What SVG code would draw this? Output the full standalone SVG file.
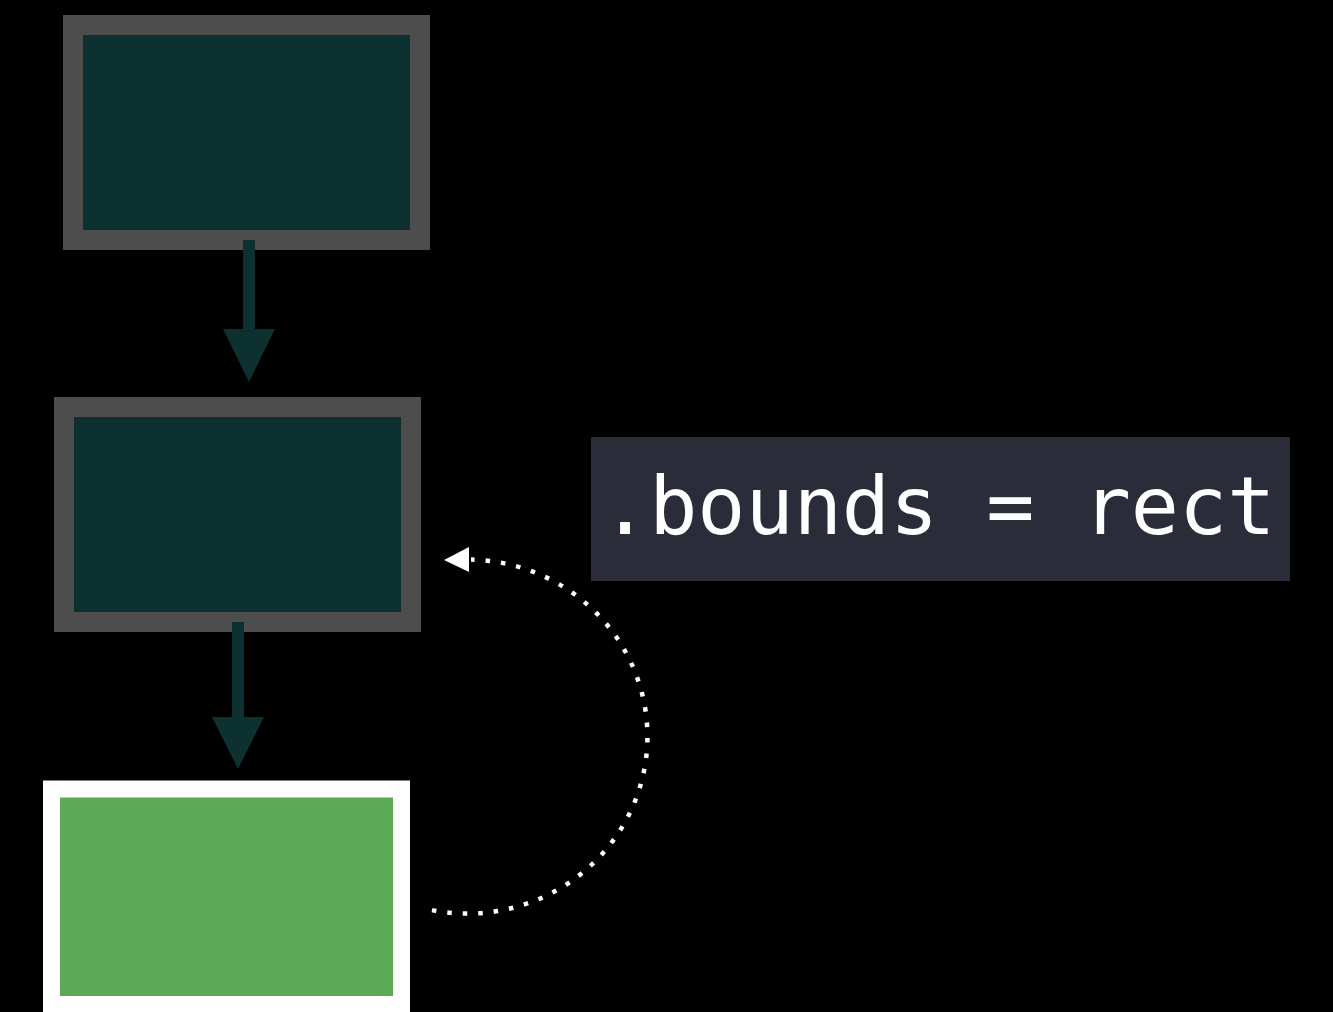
<svg xmlns="http://www.w3.org/2000/svg" width="1333" height="1012" viewBox="0 0 1333 1012">
<style>
.box{fill:#0d3030;stroke:#4d4d4d;stroke-width:20}
.flow{stroke:#0d3030;stroke-width:12;fill:none}
.head{fill:#0d3030}
.dots{fill:none;stroke:#ffffff;stroke-width:4.5;stroke-dasharray:4.5 11}
.label{font-family:"DejaVu Sans Mono","Liberation Mono",monospace;font-size:80px;fill:#ffffff}
</style>
<rect width="1333" height="1012" fill="#000000"/>
<g id="node-top"><rect class="box" x="73" y="25" width="347" height="215"/></g>
<g id="node-middle"><rect class="box" x="64" y="407" width="347" height="215"/></g>
<g id="node-bottom"><rect x="51.5" y="789" width="350" height="215.5" fill="#5ba855" stroke="#ffffff" stroke-width="17"/></g>
<g id="label-bounds">
<rect x="591" y="437" width="699" height="144" fill="#2a2c3a"/>
<text class="label" x="601" y="534">.bounds = rect</text>
</g>
<g id="connectors">
<line class="flow" x1="249" y1="240" x2="249" y2="332"/>
<polygon class="head" points="223,329 275,329 249,382"/>
<line class="flow" x1="238" y1="622" x2="238" y2="720"/>
<polygon class="head" points="212,717 264,717 238,769"/>
<path class="dots" d="M432,910.1 A180,177 0 1 0 471,559.6"/>
<polygon fill="#ffffff" points="444,560 469,547 469,572"/>
</g>
</svg>
